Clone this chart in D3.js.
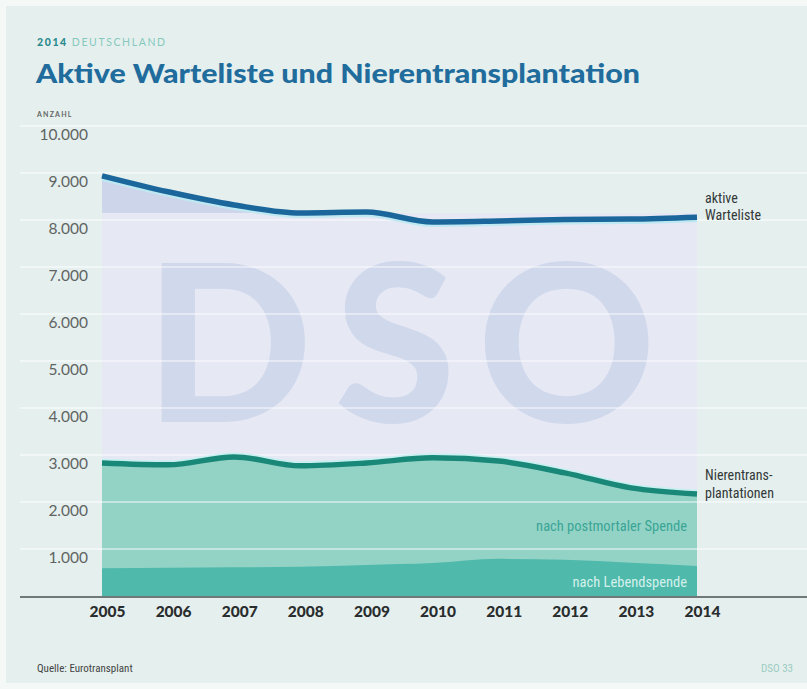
<!DOCTYPE html>
<html>
<head>
<meta charset="utf-8">
<script src="https://cdn.jsdelivr.net/npm/d3@7"></script>
<style>
  html, body { margin: 0; padding: 0; background: #f4f8f7; }
  svg { display: block; }
</style>
</head>
<body>
<svg id="chart" width="807" height="689"></svg>
<script>
// ---- data ----
const years = [2005, 2006, 2007, 2008, 2009, 2010, 2011, 2012, 2013, 2014];
const aktiveWarteliste = [8940, 8600, 8320, 8150, 8170, 7960, 7980, 8010, 8020, 8060];
const nierentransplantationen = [2830, 2790, 2960, 2770, 2830, 2940, 2870, 2620, 2300, 2170];
const lebendspende = [590, 600, 610, 620, 660, 700, 790, 770, 710, 640];
const yTicks = [1000, 2000, 3000, 4000, 5000, 6000, 7000, 8000, 9000, 10000];

const W = 807, H = 689;
const svg = d3.select("#chart");
const de = d3.formatLocale({decimal: ",", thousands: ".", grouping: [3], currency: ["", " €"]});
const fmt = de.format(",d");

const x = d3.scaleLinear().domain([2005, 2014]).range([102, 697]);
const y = d3.scaleLinear().domain([0, 10000]).range([596, 126]);
const plotL = x(2005), plotR = x(2014);

// background panel
svg.append("rect").attr("x", 6).attr("y", 6).attr("width", W - 6).attr("height", H - 12).attr("fill", "#e5f0ee");

const defs = svg.append("defs");
defs.append("clipPath").attr("id", "plotclip")
  .append("rect").attr("x", plotL).attr("y", y(10000)).attr("width", plotR - plotL).attr("height", y(0) - y(10000));
const grad = defs.append("linearGradient").attr("id", "wmgrad").attr("x1", 0).attr("x2", 0).attr("y1", 0).attr("y2", 1);
grad.append("stop").attr("offset", "0%").attr("stop-color", "#e6e8f4");
grad.append("stop").attr("offset", "70%").attr("stop-color", "#e6e8f4");
grad.append("stop").attr("offset", "100%").attr("stop-color", "#ebe4f1");

const rows = years.map((yr, i) => ({yr, w: aktiveWarteliste[i], t: nierentransplantationen[i], l: lebendspende[i]}));
const curve = d3.curveMonotoneX;

// waitlist area
svg.append("path").datum(rows)
  .attr("d", d3.area().curve(curve).x(d => x(d.yr)).y0(y(0)).y1(d => y(d.w)))
  .attr("fill", "#cdd5eb");

// watermark panel (lighter)
const wm = svg.append("g").attr("clip-path", "url(#plotclip)");
wm.append("rect").attr("x", plotL).attr("y", y(8150)).attr("width", plotR - plotL).attr("height", y(0) - y(8150))
  .attr("fill", "url(#wmgrad)");
wm.append("text").attr("x", x(2005.65)).attr("y", y(3700))
  .attr("font-family", "Lato, 'DejaVu Sans', sans-serif").attr("font-weight", 900)
  .attr("font-size", 220).attr("fill", "#d0d8ec").attr("letter-spacing", 22)
  .text("DSO");

// transplant areas
svg.append("path").datum(rows)
  .attr("d", d3.area().curve(curve).x(d => x(d.yr)).y0(y(0)).y1(d => y(d.t)))
  .attr("fill", "#93d3c6");
svg.append("path").datum(rows)
  .attr("d", d3.area().curve(curve).x(d => x(d.yr)).y0(y(0)).y1(d => y(d.l)))
  .attr("fill", "#4fb9ab");

// gridlines
svg.append("g").selectAll("line").data(yTicks).join("line")
  .attr("x1", 20).attr("x2", W).attr("y1", d => y(d)).attr("y2", d => y(d))
  .attr("stroke", "#ffffff").attr("stroke-opacity", 0.45).attr("stroke-width", 2);

// lines
svg.append("path").datum(rows)
  .attr("d", d3.line().curve(curve).x(d => x(d.yr)).y(d => y(d.w) + 3))
  .attr("fill", "none").attr("stroke", "#bfe9f2").attr("stroke-width", 4);
svg.append("path").datum(rows)
  .attr("d", d3.line().curve(curve).x(d => x(d.yr)).y(d => y(d.w)))
  .attr("fill", "none").attr("stroke", "#1b679c").attr("stroke-width", 5.5);
svg.append("path").datum(rows)
  .attr("d", d3.line().curve(curve).x(d => x(d.yr)).y(d => y(d.t) - 3))
  .attr("fill", "none").attr("stroke", "#c8f0f0").attr("stroke-width", 3);
svg.append("path").datum(rows)
  .attr("d", d3.line().curve(curve).x(d => x(d.yr)).y(d => y(d.t)))
  .attr("fill", "none").attr("stroke", "#1a8878").attr("stroke-width", 5.5);

// baseline axis
svg.append("line").attr("x1", 20).attr("x2", W).attr("y1", y(0) + 1).attr("y2", y(0) + 1)
  .attr("stroke", "#4a5250").attr("stroke-width", 1.6);

// y axis labels
const yAxis = d3.axisLeft(y).tickValues(yTicks).tickFormat(fmt).tickSize(0).tickPadding(0);
const gy = svg.append("g").attr("transform", "translate(88,0)").call(yAxis);
gy.select(".domain").remove();
gy.selectAll("text")
  .attr("font-family", "Lato, 'Open Sans', sans-serif").attr("font-size", 15.5)
  .attr("fill", "#5f6463").attr("dy", "0.35em")
  .attr("transform", "translate(0,8)");

// x axis labels
const xAxis = d3.axisBottom(x).tickValues(years).tickFormat(d3.format("d")).tickSize(0).tickPadding(0);
const gx = svg.append("g").attr("transform", `translate(5,${y(0) + 21})`).call(xAxis);
gx.select(".domain").remove();
gx.selectAll("text")
  .attr("font-family", "Lato, 'Open Sans', sans-serif").attr("font-weight", 900).attr("font-size", 15.5)
  .attr("fill", "#2a2d2d").attr("dy", "0");

// area labels
const lbFont = "'Roboto Condensed', Roboto, Lato, sans-serif";
svg.append("text").attr("x", x(2014) - 10).attr("y", y(1500) + 5)
  .attr("text-anchor", "end").attr("font-family", lbFont).attr("font-size", 14.5)
  .attr("fill", "#3aa595").text("nach postmortaler Spende");
svg.append("text").attr("x", x(2014) - 10).attr("y", y(300) + 5)
  .attr("text-anchor", "end").attr("font-family", lbFont).attr("font-size", 14.5)
  .attr("fill", "#d4f1ec").text("nach Lebendspende");

// series labels at right
const rl = svg.append("g").attr("font-family", lbFont).attr("font-size", 14).attr("fill", "#333838");
rl.append("text").attr("x", 705).attr("y", y(aktiveWarteliste[9]) - 14).text("aktive");
rl.append("text").attr("x", 705).attr("y", y(aktiveWarteliste[9]) + 3).text("Warteliste");
rl.append("text").attr("x", 705).attr("y", y(nierentransplantationen[9]) - 14).text("Nierentrans-");
rl.append("text").attr("x", 705).attr("y", y(nierentransplantationen[9]) + 4).text("plantationen");

// titles
const st = svg.append("text").attr("x", 37).attr("y", 46)
  .attr("font-family", "Lato, sans-serif").attr("font-size", 10.5).attr("letter-spacing", 1.6);
st.append("tspan").attr("font-weight", 900).attr("fill", "#2b8a8c").text("2014 ");
st.append("tspan").attr("fill", "#86c8bd").text("DEUTSCHLAND");

svg.append("text").attr("x", 36).attr("y", 83)
  .attr("font-family", "Lato, sans-serif").attr("font-weight", 900).attr("font-size", 26)
  .attr("fill", "#1f6c9d").attr("textLength", 604).attr("lengthAdjust", "spacingAndGlyphs")
  .text("Aktive Warteliste und Nierentransplantation");

svg.append("text").attr("x", 37).attr("y", 117)
  .attr("font-family", "Lato, sans-serif").attr("font-size", 7).attr("font-weight", 700)
  .attr("letter-spacing", 1.2).attr("fill", "#666").text("ANZAHL");

// footer
svg.append("text").attr("x", 37).attr("y", 672)
  .attr("font-family", lbFont).attr("font-size", 11).attr("fill", "#444")
  .text("Quelle: Eurotransplant");
svg.append("text").attr("x", 793).attr("y", 672).attr("text-anchor", "end")
  .attr("font-family", lbFont).attr("font-size", 11).attr("fill", "#9ccac2")
  .text("DSO 33");
</script>
</body>
</html>
